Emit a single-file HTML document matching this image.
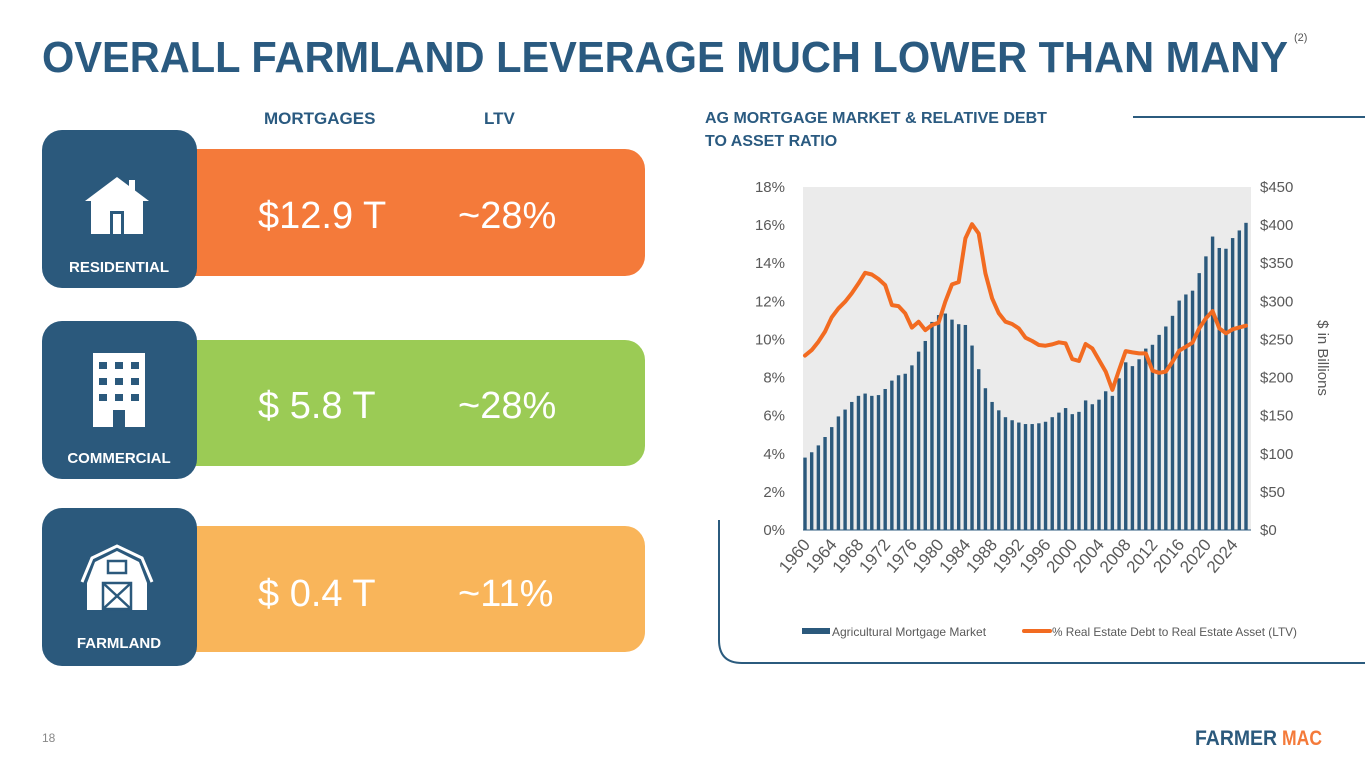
<!DOCTYPE html>
<html><head><meta charset="utf-8">
<style>
html,body{margin:0;padding:0;background:#fff;}
body{width:1365px;height:768px;overflow:hidden;font-family:"Liberation Sans",Arial,sans-serif;}
svg text{font-family:"Liberation Sans",Arial,sans-serif;}
</style></head>
<body>
<svg id="page" width="1365" height="768" viewBox="0 0 1365 768" xmlns="http://www.w3.org/2000/svg">
  <text x="42" y="72" font-size="44" font-weight="bold" fill="#2a5a80" textLength="1246" lengthAdjust="spacingAndGlyphs">OVERALL FARMLAND LEVERAGE MUCH LOWER THAN MANY</text>
  <text x="1294" y="41" font-size="11" fill="#555">(2)</text>

  <text x="264" y="124" font-size="17" font-weight="bold" fill="#2a5a80">MORTGAGES</text>
  <text x="484" y="124" font-size="17" font-weight="bold" fill="#2a5a80">LTV</text>

  <g>
    <rect x="160" y="149" width="485" height="127" rx="20" fill="#f47a3a"/>
    <rect x="42" y="130" width="155" height="158" rx="20" fill="#2b597c"/>
    <g fill="#fff">
      <polygon points="85,201 117,177 149,201"/>
      <rect x="129" y="180" width="6" height="14"/>
      <rect x="91" y="199" width="52" height="35"/>
      <rect x="110" y="211" width="14" height="23" fill="#2b597c"/>
      <rect x="113" y="214" width="8" height="20" fill="#fff"/>
    </g>
    <text x="119" y="272" font-size="15" font-weight="bold" fill="#fff" text-anchor="middle">RESIDENTIAL</text>
    <text x="258" y="228" font-size="38" fill="#fff">$12.9 T</text>
    <text x="458" y="228" font-size="38" fill="#fff">~28%</text>
  </g>

  <g>
    <rect x="160" y="340" width="485" height="126" rx="20" fill="#9bcb55"/>
    <rect x="42" y="321" width="155" height="158" rx="20" fill="#2b597c"/>
    <g>
      <rect x="93" y="353" width="52" height="74" fill="#fff"/>
      <g fill="#2b597c">
        <rect x="99" y="362" width="8" height="7"/><rect x="115" y="362" width="8" height="7"/><rect x="131" y="362" width="8" height="7"/>
        <rect x="99" y="378" width="8" height="7"/><rect x="115" y="378" width="8" height="7"/><rect x="131" y="378" width="8" height="7"/>
        <rect x="99" y="394" width="8" height="7"/><rect x="115" y="394" width="8" height="7"/><rect x="131" y="394" width="8" height="7"/>
        <rect x="113" y="410" width="12" height="17"/>
      </g>
    </g>
    <text x="119" y="463" font-size="15" font-weight="bold" fill="#fff" text-anchor="middle">COMMERCIAL</text>
    <text x="258" y="418" font-size="38" fill="#fff">$  5.8 T</text>
    <text x="458" y="418" font-size="38" fill="#fff">~28%</text>
  </g>

  <g>
    <rect x="160" y="526" width="485" height="126" rx="20" fill="#f9b55a"/>
    <rect x="42" y="508" width="155" height="158" rx="20" fill="#2b597c"/>
    <g>
      <path d="M82,582 L92,558 L117,546 L142,558 L152,582" fill="none" stroke="#fff" stroke-width="3"/>
      <path d="M87,610 L87,583 L95,562 L117,551 L139,562 L147,583 L147,610 Z" fill="#fff"/>
      <rect x="108" y="561" width="18" height="12" fill="none" stroke="#2b597c" stroke-width="2.5"/>
      <rect x="103" y="583" width="28" height="26" fill="none" stroke="#2b597c" stroke-width="2.5"/>
      <path d="M103,583 L131,609 M131,583 L103,609" stroke="#2b597c" stroke-width="2.5"/>
    </g>
    <text x="119" y="648" font-size="15" font-weight="bold" fill="#fff" text-anchor="middle">FARMLAND</text>
    <text x="258" y="606" font-size="38" fill="#fff">$  0.4 T</text>
    <text x="458" y="606" font-size="38" fill="#fff">~11%</text>
  </g>

  <text x="705" y="123" font-size="16" font-weight="bold" fill="#2a5a80">AG MORTGAGE MARKET &amp; RELATIVE DEBT</text>
  <text x="705" y="146" font-size="16" font-weight="bold" fill="#2a5a80">TO ASSET RATIO</text>
  <path d="M1133,117 L1365,117 M719,520 L719,640 Q719,663 742,663 L1365,663" fill="none" stroke="#2b5b7e" stroke-width="2"/>

  <g id="chart"></g>

  <text x="42" y="742" font-size="12" fill="#888">18</text>
  <g>
    <text x="1195" y="745" font-size="21" font-weight="bold" fill="#2b597c" textLength="82" lengthAdjust="spacingAndGlyphs">FARMER</text>
    <text x="1282" y="745" font-size="21" font-weight="bold" fill="#f47a3a" textLength="40" lengthAdjust="spacingAndGlyphs">MAC</text>
  </g>
</svg>
<script>
const years = [];
for (let y = 1960; y <= 2026; y++) years.push(y);
const mortgageBillions = [95,102,111,122,135,149,158,168,176,179,176,177,185,196,203,205,216,234,248,273,282,284,276,270,269,242,211,186,168,157,148,144,141,139,139,140,142,148,154,160,152,155,170,165,171,182,176,199,220,215,224,238,243,256,267,281,301,309,314,337,359,385,370,369,383,393,403];
const ltvPercent = [9.15,9.44,9.88,10.41,11.16,11.63,11.98,12.42,12.94,13.5,13.41,13.17,12.85,11.8,11.75,11.37,10.62,10.93,10.49,10.76,10.88,11.98,12.89,13.01,15.3,16.05,15.56,13.47,12.16,11.37,10.93,10.81,10.58,10.09,9.92,9.71,9.67,9.74,9.85,9.79,8.97,8.87,9.76,9.53,8.92,8.31,7.35,8.39,9.39,9.32,9.27,9.27,8.36,8.25,8.31,8.83,9.41,9.62,9.83,10.58,11.11,11.49,10.58,10.32,10.53,10.63,10.72];
const leftTicks = [0,2,4,6,8,10,12,14,16,18];
const rightTicks = [0,50,100,150,200,250,300,350,400,450];
const xLabels = ["1960","1964","1968","1972","1976","1980","1984","1988","1992","1996","2000","2004","2008","2012","2016","2020","2024"];

const NS = "http://www.w3.org/2000/svg";
const g = document.getElementById('chart');
const PL = 803, PR = 1251, PT = 187, PB = 530;
const xBar = i => 805 + i * (PR - 5 - 805) / (years.length - 1);
const yPct = v => PB - v / 18 * (PB - PT);
const yBil = v => PB - v / 450 * (PB - PT);
function mk(tag, attrs) { const e = document.createElementNS(NS, tag); for (const k in attrs) e.setAttribute(k, attrs[k]); g.appendChild(e); return e; }

const bg = mk('rect', {x: PL, y: PT, width: PR - PL, height: PB - PT, fill: '#ebebeb'});



leftTicks.forEach(t => {
  const e = mk('text', {x: 785, y: yPct(t) + 5, 'font-size': 15, fill: '#595959', 'text-anchor': 'end'});
  e.textContent = t + '%';
  
  
});
rightTicks.forEach(t => {
  const e = mk('text', {x: 1260, y: yBil(t) + 5, 'font-size': 15, fill: '#595959'});
  e.textContent = '$' + t;
  
  
});
const rt = mk('text', {x: 1318, y: 358, 'font-size': 15, fill: '#595959', 'text-anchor': 'middle', transform: 'rotate(90 1318 358)'});
rt.textContent = '$ in Billions';



mortgageBillions.forEach((v, i) => {
  const b = mk('rect', {x: xBar(i) - 1.7, y: yBil(v), width: 3.4, height: PB - yBil(v), fill: '#2b597c'});
  
  
});
const ax = mk('line', {x1: PL, x2: PR, y1: PB, y2: PB, stroke: '#2b597c', 'stroke-width': 1});



const pts = ltvPercent.map((v, i) => xBar(i).toFixed(1) + ',' + yPct(v).toFixed(1)).join(' ');
const line = mk('polyline', {points: pts, fill: 'none', stroke: '#f26b21', 'stroke-width': 4, 'stroke-linejoin': 'round', 'stroke-linecap': 'round'});



xLabels.forEach((lab, i) => {
  const idx = years.indexOf(+lab);
  const x = xBar(idx) + 6, y = 545;
  const t = mk('text', {x: x, y: y, 'font-size': 17, fill: '#595959', 'text-anchor': 'end', transform: 'rotate(-50 ' + x + ' ' + y + ')'});
  t.textContent = lab;
  
  
});

const l1 = mk('rect', {x: 802, y: 628, width: 28, height: 6, fill: '#2b597c'});


const lt1 = mk('text', {x: 832, y: 636, 'font-size': 12, fill: '#595959'});
lt1.textContent = 'Agricultural Mortgage Market';


const l2 = mk('line', {x1: 1024, x2: 1050, y1: 631, y2: 631, stroke: '#f26b21', 'stroke-width': 4, 'stroke-linecap': 'round'});


const lt2 = mk('text', {x: 1052, y: 636, 'font-size': 12, fill: '#595959', textLength: 245, lengthAdjust: 'spacingAndGlyphs'});
lt2.textContent = '% Real Estate Debt to Real Estate Asset (LTV)';


</script>
</body></html>
